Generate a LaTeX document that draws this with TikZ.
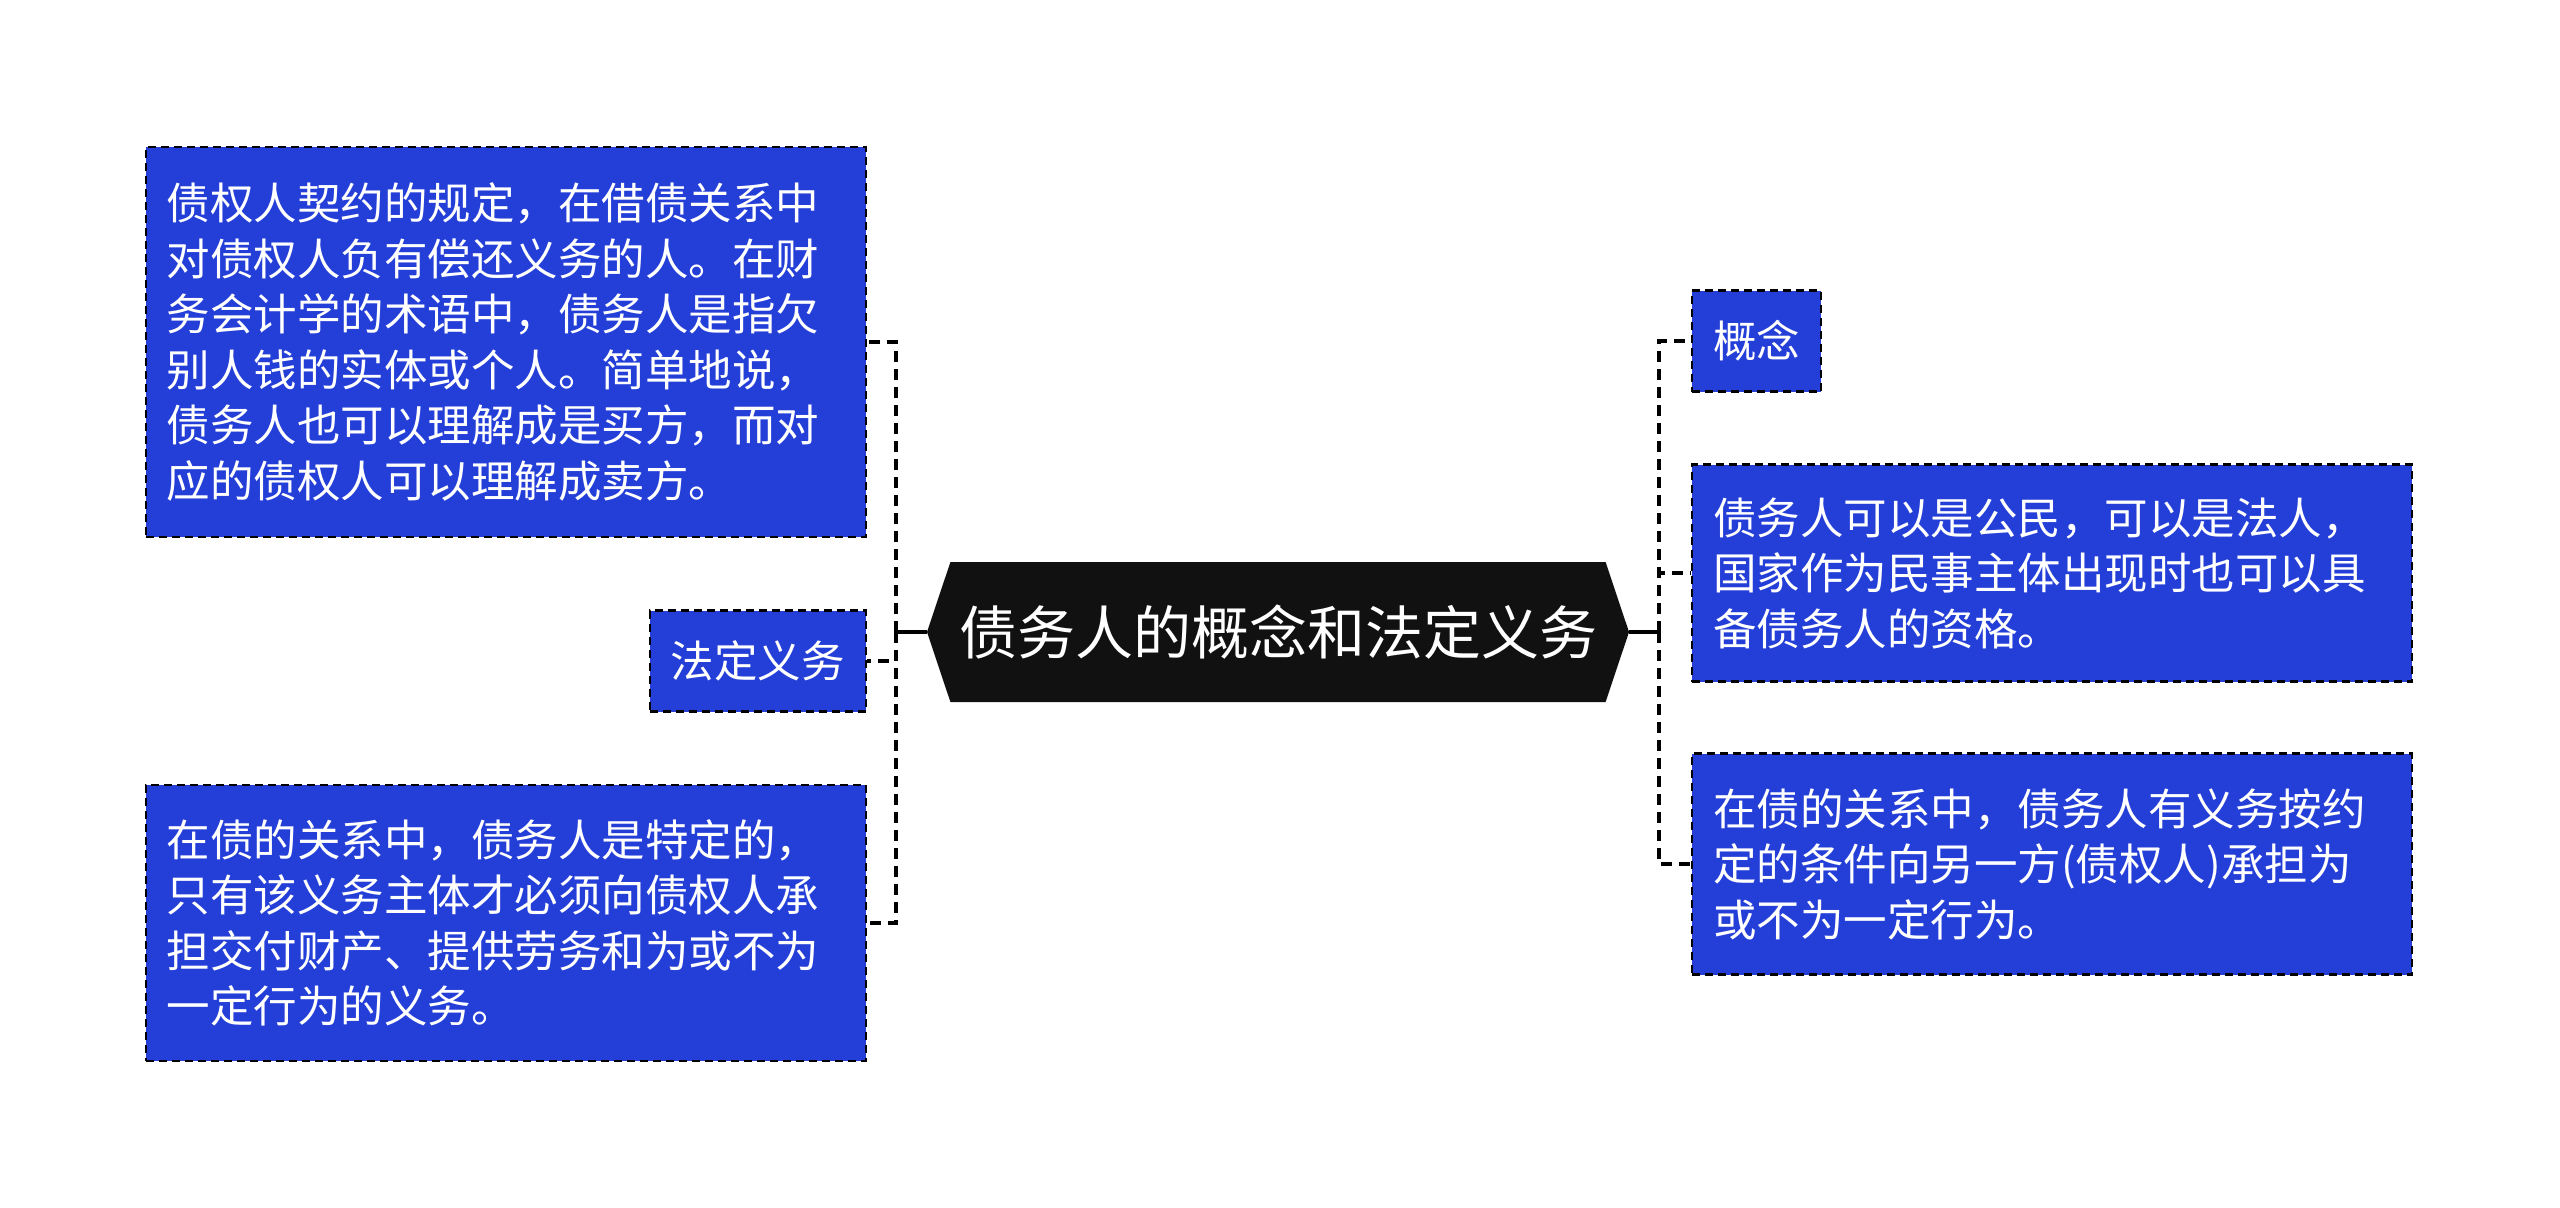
\documentclass[tikz,border=0pt]{standalone}
\usepackage{fontspec}
\newfontfamily\cjk{Noto Sans CJK SC}
\usetikzlibrary{shapes.symbols, positioning}
\definecolor{leafblue}{RGB}{36,62,216}
\definecolor{rootblack}{RGB}{17,17,17}
\tikzset{
root/.style={signal, signal to=west and east, signal pointer angle=143, fill=rootblack, text=white, inner sep=0, minimum width=351pt, minimum height=70pt, font=\cjk\fontsize{29pt}{34pt}\selectfont},
leaf/.style={rectangle, draw=black, fill=leafblue, text=white, line width=1.2pt, dash pattern=on 4pt off 2.5pt, inner xsep=10.5pt, inner ysep=0pt, align=left, font=\cjk\fontsize{21.75pt}{27.75pt}\selectfont},
wide/.style={leaf, text width=339pt},
link/.style={line width=2pt, dash pattern=on 5.5pt off 3.5pt},
trunk/.style={line width=2pt}}
\begin{document}
\begin{tikzpicture}[x=0.5pt, y=-0.5pt]
\useasboundingbox (0,0) rectangle (2560,1207);
\node [root] (root) at (1278,632) {债务人的概念和法定义务};
\node [wide, anchor=east, minimum height=195pt] (lt) at (867,342) {债权人契约的规定，在借债关系中\\对债权人负有偿还义务的人。在财\\务会计学的术语中，债务人是指欠\\别人钱的实体或个人。简单地说，\\债务人也可以理解成是买方，而对\\应的债权人可以理解成卖方。};
\node [leaf, anchor=east, minimum height=50.5pt] (ld) at (867,661) {法定义务};
\node [wide, anchor=east, minimum height=138pt] (lb) at (867,923) {在债的关系中，债务人是特定的，\\只有该义务主体才必须向债权人承\\担交付财产、提供劳务和为或不为\\一定行为的义务。};
\node [leaf, anchor=west, minimum height=50.5pt] (rc) at (1691,341) {概念};
\node [wide, anchor=west, minimum height=108.5pt] (rp) at (1691,573) {债务人可以是公民，可以是法人，\\国家作为民事主体出现时也可以具\\备债务人的资格。};
\node [wide, anchor=west, minimum height=110.5pt] (rs) at (1691,864) {在债的关系中，债务人有义务按约\\定的条件向另一方(债权人)承担为\\或不为一定行为。};
\coordinate (lj) at (896,632);
\coordinate (rj) at (1659,632);
\draw [trunk] (root.west) -- (lj);
\draw [trunk] (root.east) -- (rj);
\draw [link] (lj) |- (lt.east);
\draw [link] (lj) |- (ld.east);
\draw [link] (lj) |- (lb.east);
\draw [link] (rj) |- (rc.west);
\draw [link] (rj) |- (rp.west);
\draw [link] (rj) |- (rs.west);
\end{tikzpicture}
\end{document}
